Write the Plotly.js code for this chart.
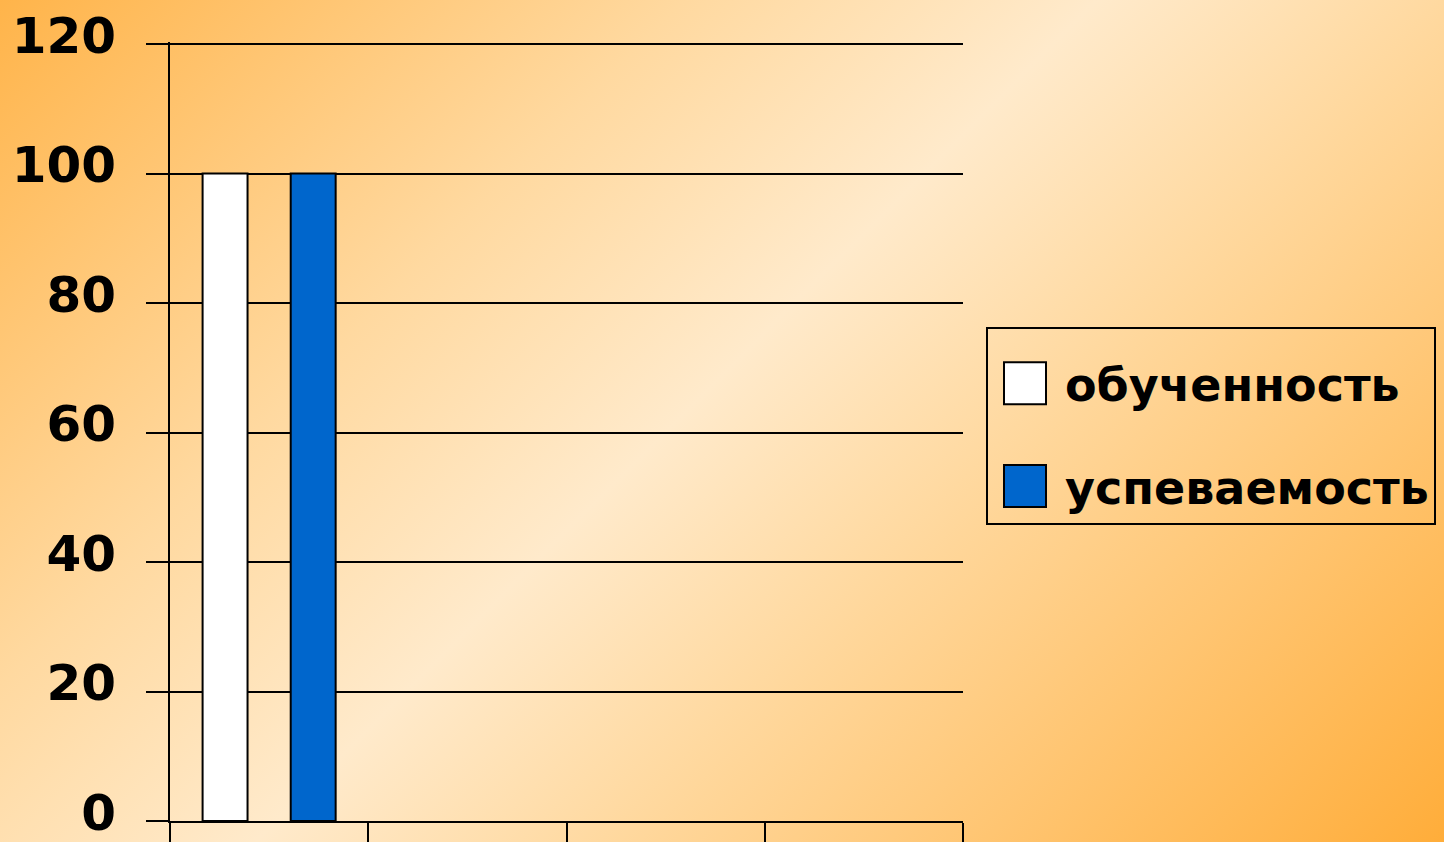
<!DOCTYPE html>
<html>
<head>
<meta charset="utf-8">
<script src="https://cdn.plot.ly/plotly-3.0.1.min.js"></script>
<style>
  html, body { margin: 0; padding: 0; width: 1444px; height: 842px; overflow: hidden;
    background: linear-gradient(135deg, #FFB44A 0%, #FFD9A0 30%, #FFEACB 48%, #FFD9A0 63%, #FFAD3A 100%); }
  #chart { width: 1444px; height: 842px; }
</style>
</head>
<body>
<div id="chart"></div>
<script>
const categories = ["1", "2", "3", "4"];
const seriesNames = ["обученность", "успеваемость"];
const obuchennost = [100, null, null, null];
const uspevaemost = [100, null, null, null];
const yTicks = [0, 20, 40, 60, 80, 100, 120];

const font = { family: "DejaVu Sans", size: 50, weight: "bold", color: "#000" };

const traces = [
  { type: "bar", name: seriesNames[0], x: categories, y: obuchennost, legendgroup: "a",
    marker: { color: "#FFFFFF", line: { color: "#000", width: 2 } }, hoverinfo: "skip" },
  { type: "bar", name: seriesNames[1], x: categories, y: uspevaemost, legendgroup: "b",
    marker: { color: "#0066CC", line: { color: "#000", width: 2 } }, hoverinfo: "skip" }
];

const layout = {
  width: 1444, height: 842,
  margin: { l: 170, r: 481, t: 42, b: 21, pad: 0, autoexpand: false },
  paper_bgcolor: "rgba(0,0,0,0)", plot_bgcolor: "rgba(0,0,0,0)",
  font: font,
  barmode: "group", bargap: 0.111, bargroupgap: 0.49,
  xaxis: { type: "category", showticklabels: false, ticks: "outside", ticklen: 30, tickwidth: 2,
    tickcolor: "#000", tickson: "boundaries", showline: true, linecolor: "#000", linewidth: 2,
    showgrid: false, zeroline: false, fixedrange: true },
  yaxis: { range: [0, 120.31], tickvals: yTicks, ticktext: yTicks.map(String), ticks: "outside",
    ticklen: 22, tickwidth: 2, tickcolor: "#000", showline: true, linecolor: "#000", linewidth: 2,
    showgrid: true, gridcolor: "#000", gridwidth: 2, zeroline: false, ticklabelstandoff: 20,
    ticklabelshift: -9, ticklabeloverflow: "allow",
    tickfont: { family: "DejaVu Sans", size: 50, weight: "bold", color: "#000" },
    fixedrange: true },
  legend: { x: 1.029, y: 0.6345, xanchor: "left", yanchor: "top", bgcolor: "rgba(0,0,0,0)",
    bordercolor: "#000", borderwidth: 2, traceorder: "grouped", tracegroupgap: 40,
    itemwidth: 67, title: { text: "\u00A0", font: { size: 14 } },
    font: { family: "DejaVu Sans", size: 46, weight: "bold", color: "#000" } },
  showlegend: true
};

Plotly.newPlot("chart", traces, layout, { displayModeBar: false, staticPlot: true }).then(function () {
  document.querySelectorAll(".legend .legendpoints path").forEach(function (p) {
    p.setAttribute("transform", "translate(37,0) scale(3.5)");
    p.setAttribute("vector-effect", "non-scaling-stroke");
  });
});
</script>
</body>
</html>
